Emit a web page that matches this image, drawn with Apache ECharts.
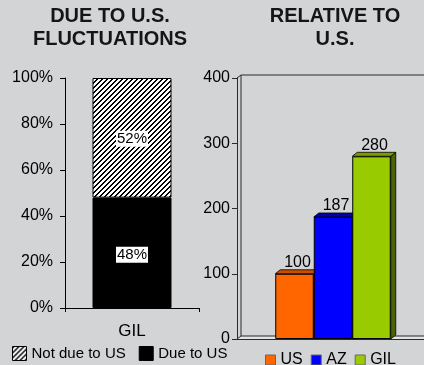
<!DOCTYPE html>
<html>
<head>
<meta charset="utf-8">
<script src="https://cdn.jsdelivr.net/npm/echarts@6/dist/echarts.min.js"></script>
<style>
  html, body { margin: 0; padding: 0; background: #d3d4d6; }
  #chart { width: 424px; height: 365px; }
</style>
</head>
<body>
<div id="chart"></div>
<script>
// Share of GIL fluctuations explained by U.S. movements
const shareCategories = ['GIL'];
const shareDueToUS = [48];
const shareNotDueToUS = [52];
const shareTicks = [0, 20, 40, 60, 80, 100];

// Volatility index relative to U.S. (U.S. = 100)
const relNames = ['US', 'AZ', 'GIL'];
const relValues = [100, 187, 280];
const relTicks = [0, 100, 200, 300, 400];

const FONT = '"Liberation Sans", Arial, Helvetica, sans-serif';
const BG = '#d3d4d6';

// Diagonal hatch used for the "Not due to US" segment
function makeHatch() {
  const size = 5;
  const c = document.createElement('canvas');
  c.width = size; c.height = size;
  const ctx = c.getContext('2d');
  const img = ctx.createImageData(size, size);
  for (let y = 0; y < size; y++) {
    for (let x = 0; x < size; x++) {
      const k = (x + y) % size;
      const v = (k === 0 || k === 1) ? 0 : 255;
      const p = (y * size + x) * 4;
      img.data[p] = v; img.data[p + 1] = v; img.data[p + 2] = v; img.data[p + 3] = 255;
    }
  }
  ctx.putImageData(img, 0, 0);
  return c;
}
const hatch = { image: makeHatch(), repeat: 'repeat' };

// Layout of the right-hand pseudo-3D panel (plot area runs past the right edge)
const R_LEFT = 237, R_TOP = 78, R_BOTTOM = 339, R_WIDTH = 192;
const DX = 4, DY = 3;       // depth of the back wall
const BAR_W = 38.5;
const BAR_DX = 5, BAR_DY = 4;
const frontColors = ['#FF6600', '#0000FF', '#99CC00'];
const topColors = ['#C94F00', '#0000B0', '#7C9C00'];
const sideColors = ['#8F3A00', '#00007A', '#4B6300'];

function step(ticks) { return ticks[1] - ticks[0]; }

function renderFaces(params, api) {
  const idx = api.value(2);
  const v = api.value(1);
  const top = api.coord([0, v]);
  const base = api.coord([0, 0]);
  const xl = top[0] + (idx - 1) * BAR_W - BAR_W / 2;
  const xr = xl + BAR_W;
  const yt = top[1], yb = base[1];
  const stroke = { stroke: '#000', lineWidth: 0.8 };
  return {
    type: 'group',
    children: [
      {
        type: 'polygon',
        shape: { points: [[xr, yt], [xr + BAR_DX, yt - BAR_DY], [xr + BAR_DX, yb - BAR_DY], [xr, yb]] },
        style: Object.assign({ fill: sideColors[idx] }, stroke)
      },
      {
        type: 'polygon',
        shape: { points: [[xl, yt], [xr, yt], [xr + BAR_DX, yt - BAR_DY], [xl + BAR_DX, yt - BAR_DY]] },
        style: Object.assign({ fill: topColors[idx] }, stroke)
      }
    ]
  };
}

const chart = echarts.init(document.getElementById('chart'), null, { renderer: 'canvas' });

const relSeries = relNames.map((name, i) => ({
  name: name,
  type: 'bar',
  xAxisIndex: 1,
  yAxisIndex: 1,
  barWidth: BAR_W,
  barGap: '0%',
  z: 3,
  data: [relValues[i]],
  itemStyle: { color: frontColors[i], borderColor: '#000', borderWidth: 1 },
  label: {
    show: true,
    position: 'top',
    distance: 3,
    offset: [3, 0],
    fontFamily: FONT,
    fontSize: 16,
    color: '#000'
  }
}));

const wallStroke = { stroke: '#2a2a2a', lineWidth: 1 };
const farRight = 430;

chart.setOption({
  backgroundColor: BG,
  animation: false,
  textStyle: { fontFamily: FONT },
  title: [
    {
      text: 'DUE TO U.S.\nFLUCTUATIONS',
      left: 110, top: 5, padding: 0, textAlign: 'center',
      textStyle: { fontFamily: FONT, fontSize: 20, fontWeight: 'bold', color: '#151515', lineHeight: 23 }
    },
    {
      text: 'RELATIVE TO\nU.S.',
      left: 335, top: 5, padding: 0, textAlign: 'center',
      textStyle: { fontFamily: FONT, fontSize: 20, fontWeight: 'bold', color: '#151515', lineHeight: 23 }
    }
  ],
  legend: [
    {
      data: ['Not due to US', 'Due to US'],
      left: 12, top: 346, padding: 0,
      itemWidth: 14, itemHeight: 14, itemGap: 13,
      icon: 'rect',
      itemStyle: { borderColor: '#000', borderWidth: 1 },
      textStyle: { fontFamily: FONT, fontSize: 15, color: '#000' }
    },
    {
      data: relNames,
      left: 265, top: 352, padding: 0,
      itemWidth: 10, itemHeight: 10, itemGap: 8,
      icon: 'rect',
      itemStyle: { borderColor: '#666', borderWidth: 1 },
      textStyle: { fontFamily: FONT, fontSize: 16, color: '#000' }
    }
  ],
  grid: [
    { left: 65, top: 78, width: 134, height: 230, containLabel: false, outerBoundsMode: 'none' },
    { left: R_LEFT, top: R_TOP, width: R_WIDTH, height: R_BOTTOM - R_TOP, containLabel: false, outerBoundsMode: 'none' }
  ],
  xAxis: [
    {
      gridIndex: 0, type: 'category', data: shareCategories,
      axisLine: { lineStyle: { color: '#000', width: 1 } },
      axisTick: { show: true, length: 4, lineStyle: { color: '#000' } },
      axisLabel: { fontFamily: FONT, fontSize: 17, color: '#000', margin: 15 }
    },
    {
      gridIndex: 1, type: 'category', data: [''],
      axisLine: { lineStyle: { color: '#2a2a2a', width: 1 } },
      axisTick: { show: false },
      axisLabel: { show: false }
    }
  ],
  yAxis: [
    {
      gridIndex: 0, type: 'value',
      min: shareTicks[0], max: shareTicks[shareTicks.length - 1], interval: step(shareTicks),
      axisLine: { show: true, lineStyle: { color: '#000', width: 1 } },
      axisTick: { show: true, length: 5, lineStyle: { color: '#000' } },
      splitLine: { show: false },
      axisLabel: { fontFamily: FONT, fontSize: 16, color: '#000', margin: 12, formatter: '{value}%' }
    },
    {
      gridIndex: 1, type: 'value',
      min: relTicks[0], max: relTicks[relTicks.length - 1], interval: step(relTicks),
      axisLine: { show: true, lineStyle: { color: '#2a2a2a', width: 1 } },
      axisTick: { show: true, length: 5, lineStyle: { color: '#2a2a2a' } },
      splitLine: { show: false },
      axisLabel: { fontFamily: FONT, fontSize: 16, color: '#000', margin: 7 }
    }
  ],
  graphic: [
    { type: 'polygon', z: 0, silent: true,
      shape: { points: [[R_LEFT, R_BOTTOM], [R_LEFT + DX, R_BOTTOM - DY], [farRight, R_BOTTOM - DY], [farRight, R_BOTTOM]] },
      style: { fill: '#e2e3e5' } },
    { type: 'polyline', z: 1, silent: true,
      shape: { points: [[R_LEFT, R_TOP], [R_LEFT + DX, R_TOP - DY], [farRight, R_TOP - DY]] },
      style: Object.assign({ fill: null }, wallStroke) },
    { type: 'line', z: 1, silent: true,
      shape: { x1: R_LEFT + DX, y1: R_TOP - DY, x2: R_LEFT + DX, y2: R_BOTTOM - DY },
      style: wallStroke },
    { type: 'polyline', z: 1, silent: true,
      shape: { points: [[R_LEFT, R_BOTTOM], [R_LEFT + DX, R_BOTTOM - DY], [farRight, R_BOTTOM - DY]] },
      style: Object.assign({ fill: null }, wallStroke) }
  ],
  series: [
    {
      name: 'Due to US', type: 'bar', stack: 'share',
      xAxisIndex: 0, yAxisIndex: 0, barWidth: 79,
      data: shareDueToUS,
      itemStyle: { color: '#000', borderColor: '#000', borderWidth: 1 },
      label: {
        show: true, position: 'inside', formatter: '{c}%',
        fontFamily: FONT, fontSize: 15, color: '#000',
        backgroundColor: '#fff', padding: [1, 1, 0, 1], offset: [0, 2]
      }
    },
    {
      name: 'Not due to US', type: 'bar', stack: 'share',
      xAxisIndex: 0, yAxisIndex: 0, barWidth: 79,
      data: shareNotDueToUS,
      itemStyle: { color: hatch, borderColor: '#000', borderWidth: 1 },
      label: {
        show: true, position: 'inside', formatter: '{c}%',
        fontFamily: FONT, fontSize: 15, color: '#000',
        backgroundColor: '#fff', padding: [1, 1, 0, 1], offset: [0, 1]
      }
    },
    {
      name: 'faces', type: 'custom',
      xAxisIndex: 1, yAxisIndex: 1, z: 2,
      renderItem: renderFaces,
      encode: { x: 0, y: 1 },
      data: relValues.map((v, i) => [0, v, i]),
      silent: true
    }
  ].concat(relSeries)
});
</script>
</body>
</html>
